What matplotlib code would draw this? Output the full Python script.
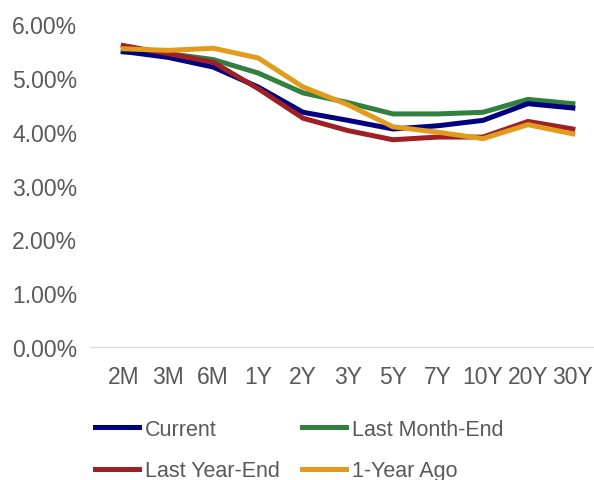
import matplotlib.pyplot as plt
from matplotlib.ticker import FuncFormatter

plt.rcParams['font.family'] = ['Liberation Sans', 'DejaVu Sans']

tenors = ['2M', '3M', '6M', '1Y', '2Y', '3Y', '5Y', '7Y', '10Y', '20Y', '30Y']
current = [5.49, 5.38, 5.20, 4.83, 4.36, 4.21, 4.05, 4.11, 4.21, 4.52, 4.44]
last_month_end = [5.48, 5.45, 5.34, 5.09, 4.72, 4.54, 4.33, 4.33, 4.36, 4.60, 4.52]
last_year_end = [5.60, 5.45, 5.29, 4.80, 4.25, 4.02, 3.85, 3.90, 3.90, 4.19, 4.05]
year_ago = [5.54, 5.51, 5.55, 5.37, 4.83, 4.50, 4.09, 3.99, 3.87, 4.13, 3.96]

fig = plt.figure(figsize=(5.94, 4.81), dpi=100)
ax = fig.add_axes([0.152, 0.2765, 0.848, 0.6715])

x = range(len(tenors))
l1, = ax.plot(x, current, color='#000080', lw=3.6, label='Current', zorder=4)
l2, = ax.plot(x, last_month_end, color='#31803F', lw=3.6, label='Last Month-End', zorder=3)
l3, = ax.plot(x, last_year_end, color='#9E1F24', lw=3.6, label='Last Year-End', zorder=4)
l4, = ax.plot(x, year_ago, color='#E39B1C', lw=3.6, label='1-Year Ago', zorder=5)

ax.set_ylim(0, 6)
ax.set_xlim(-0.733, 10.47)
ax.set_yticks([0, 1, 2, 3, 4, 5, 6])
ax.yaxis.set_major_formatter(FuncFormatter(lambda v, p: f'{v:.2f}%'))
ax.set_xticks(list(x))
ax.set_xticklabels(tenors)
ax.tick_params(length=0, labelsize=16.5, labelcolor='#595959')
ax.tick_params(axis='x', pad=13)
ax.tick_params(axis='y', pad=9.5)
for s in ['top', 'right', 'left']:
    ax.spines[s].set_visible(False)
ax.spines['bottom'].set_color('#d9d9d9')

# row-wise legend order (matplotlib fills by column)
fig.legend([l1, l3, l2, l4], ['Current', 'Last Year-End', 'Last Month-End', '1-Year Ago'],
           loc='upper left', bbox_to_anchor=(0.160, 0.127), ncol=2, frameon=False,
           fontsize=15.5, labelcolor='#595959', handlelength=2.05, handletextpad=0.28,
           columnspacing=1.0, labelspacing=0.95, borderaxespad=0, borderpad=0)

fig.savefig('out.png')
